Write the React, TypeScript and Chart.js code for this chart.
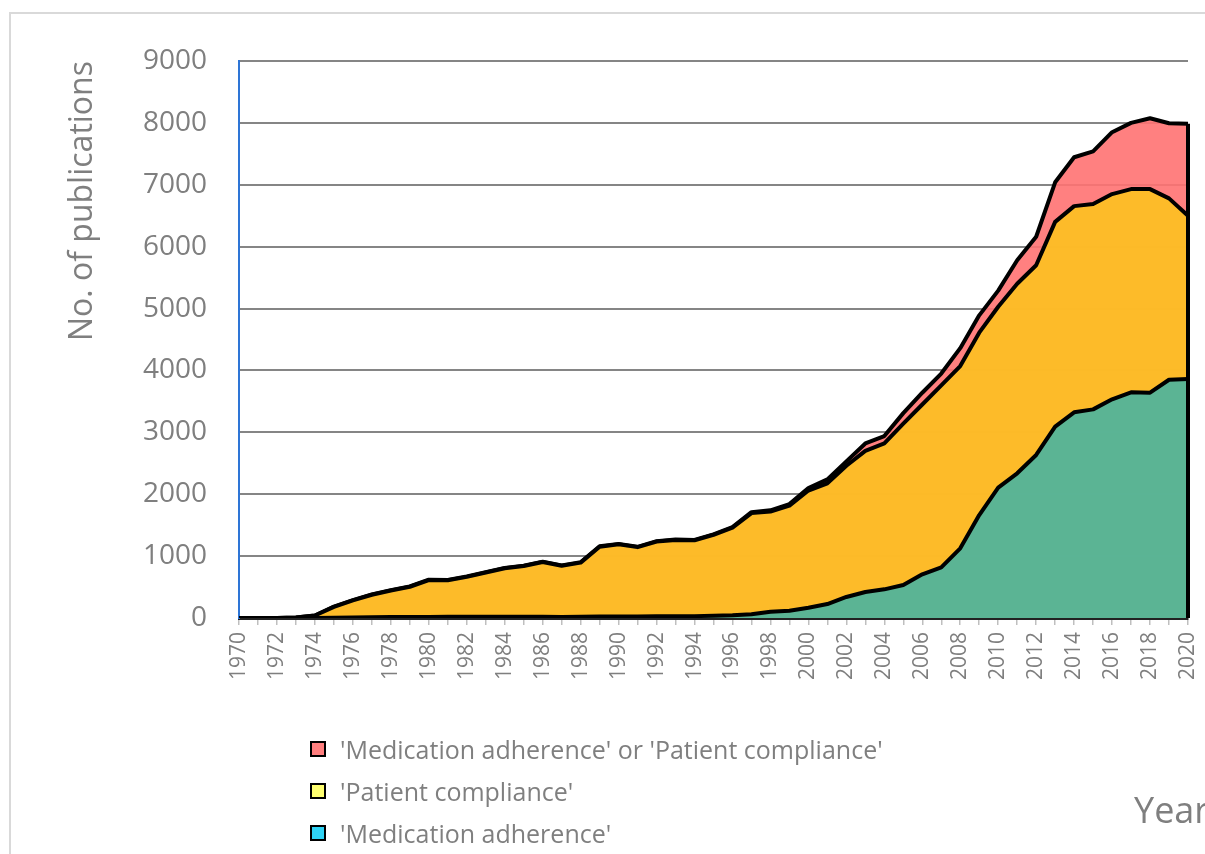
import React, { useEffect, useRef } from "react";
import { Chart, registerables } from "chart.js";

Chart.register(...registerables);

const years: string[] = [];
for (let y = 1970; y <= 2020; y++) years.push(String(y));

const eitherValues = [
  0, 0, 0, 8, 40, 185, 290, 380, 450, 510,
  620, 615, 670, 740, 810, 845, 910, 850, 900, 1160,
  1195, 1150, 1240, 1268, 1260, 1350, 1470, 1710, 1740, 1840,
  2100, 2240, 2530, 2820, 2940, 3310, 3640, 3950, 4360, 4890,
  5290, 5780, 6160, 7040, 7445, 7540, 7850, 8000, 8075, 7995,
  7985,
];

const complianceValues = [
  0, 0, 0, 8, 40, 180, 285, 375, 445, 505,
  612, 610, 665, 735, 805, 840, 905, 845, 895, 1152,
  1190, 1145, 1235, 1262, 1255, 1345, 1460, 1695, 1720, 1815,
  2060, 2175, 2460, 2700, 2820, 3140, 3450, 3760, 4070, 4610,
  5030, 5400, 5700, 6400, 6655, 6690, 6850, 6930, 6930, 6780,
  6500,
];

const adherenceValues = [
  0, 0, 0, 0, 2, 5, 10, 12, 15, 18,
  18, 20, 22, 20, 22, 22, 20, 18, 22, 25,
  25, 25, 28, 30, 30, 38, 45, 62, 102, 118,
  165, 225, 340, 420, 463, 533, 706, 819, 1126, 1664,
  2106, 2338, 2634, 3091, 3323, 3371, 3533, 3646, 3641, 3850,
  3860,
];

const yTicks = [0, 1000, 2000, 3000, 4000, 5000, 6000, 7000, 8000, 9000];

const legendItems = [
  { label: "'Medication adherence' or 'Patient compliance'", color: "#FF7F7F" },
  { label: "'Patient compliance'", color: "#FFFF70" },
  { label: "'Medication adherence'", color: "#2FD3F5" },
];

const GRAY = "#7F7F7F";
const FONT = "'Open Sans', 'DejaVu Sans', sans-serif";

const edgePlugin = {
  id: "rightEdge",
  afterDatasetsDraw(chart: any) {
    const ctx = chart.ctx;
    const yScale = chart.scales.y;
    const y0 = yScale.getPixelForValue(0);
    ctx.save();
    ctx.strokeStyle = "#000";
    ctx.lineWidth = 4;
    chart.data.datasets.forEach((_: any, i: number) => {
      const meta = chart.getDatasetMeta(i);
      const pts = meta.data;
      const last = pts[pts.length - 1];
      if (!last) return;
      ctx.beginPath();
      ctx.moveTo(last.x, last.y);
      ctx.lineTo(last.x, y0);
      ctx.stroke();
    });
    ctx.restore();
  },
};

export default function App() {
  const ref = useRef<HTMLCanvasElement | null>(null);

  useEffect(() => {
    if (!ref.current) return;
    const chart = new Chart(ref.current, {
      type: "line",
      data: {
        labels: years,
        datasets: [
          {
            label: "'Medication adherence'",
            data: adherenceValues,
            backgroundColor: "rgba(73,180,161,0.9)",
            borderColor: "#000",
            borderWidth: 4,
            fill: "origin",
            pointRadius: 0,
            tension: 0,
            order: 0,
          },
          {
            label: "'Patient compliance'",
            data: complianceValues,
            backgroundColor: "rgba(253,194,32,0.9)",
            borderColor: "#000",
            borderWidth: 4,
            fill: "origin",
            pointRadius: 0,
            tension: 0,
            order: 1,
          },
          {
            label: "'Medication adherence' or 'Patient compliance'",
            data: eitherValues,
            backgroundColor: "rgba(255,114,114,0.9)",
            borderColor: "#000",
            borderWidth: 4,
            fill: "origin",
            pointRadius: 0,
            tension: 0,
            order: 2,
          },
        ],
      },
      options: {
        responsive: false,
        maintainAspectRatio: false,
        animation: false,
        layout: { padding: { left: 0, top: 61, right: 17, bottom: 0 } },
        plugins: {
          legend: { display: false },
          tooltip: { enabled: false },
        },
        elements: { line: { borderJoinStyle: "round" } },
        scales: {
          x: {
            type: "category",
            offset: false,
            grid: {
              display: true,
              drawOnChartArea: false,
              drawTicks: true,
              tickLength: 7,
              color: "#BFBFBF",
              lineWidth: 1.5,
            },
            border: { display: true, color: "#222", width: 3 },
            ticks: {
              autoSkip: false,
              minRotation: 90,
              maxRotation: 90,
              padding: 7,
              color: GRAY,
              font: { family: FONT, size: 21 },
              callback: (_v: any, i: number) => (i % 2 === 0 ? years[i] : ""),
            },
            afterFit: (s: any) => {
              s.height = 236;
              s.paddingLeft = 0;
              s.paddingRight = 0;
            },
          },
          y: {
            min: 0,
            max: 9000,
            afterBuildTicks: (s: any) => {
              s.ticks = yTicks.map((v) => ({ value: v }));
            },
            grid: {
              color: "#858585",
              lineWidth: 2,
              drawTicks: false,
            },
            border: { display: true, color: "#2E75D6", width: 2 },
            ticks: {
              padding: 32,
              color: GRAY,
              font: { family: FONT, size: 28 },
              callback: (v: any) => String(v),
            },
            title: {
              display: true,
              text: "No. of publications",
              align: "end",
              color: GRAY,
              font: { family: FONT, size: 32 },
              padding: { top: 64, bottom: 0 },
            },
            afterFit: (s: any) => {
              s.width = 239;
              s.paddingTop = 0;
              s.paddingBottom = 0;
            },
          },
        },
      },
      plugins: [edgePlugin],
    } as any);
    return () => chart.destroy();
  }, []);

  return (
    <div
      style={{
        position: "fixed",
        left: 0,
        top: 0,
        width: 1205,
        height: 854,
        overflow: "hidden",
        background: "#fff",
        fontFamily: FONT,
      }}
    >
      <div
        style={{
          position: "absolute",
          left: 9,
          top: 12,
          width: 1400,
          height: 1000,
          border: "2px solid #D9D9D9",
          boxSizing: "border-box",
        }}
      />
      <canvas
        ref={ref}
        width={1205}
        height={854}
        style={{ position: "absolute", left: 0, top: 0, display: "block" }}
      />
      {legendItems.map((it, i) => (
        <div
          key={i}
          style={{
            position: "absolute",
            left: 310,
            top: 731 + i * 42,
            height: 36,
            display: "flex",
            alignItems: "center",
            color: GRAY,
            fontSize: 25,
            whiteSpace: "nowrap",
          }}
        >
          <span
            style={{
              display: "inline-block",
              width: 12,
              height: 12,
              border: "2px solid #000",
              background: it.color,
              marginRight: 14,
            }}
          />
          <span>{it.label}</span>
        </div>
      ))}
      <div
        style={{
          position: "absolute",
          left: 1134,
          top: 788,
          color: GRAY,
          fontSize: 36,
          whiteSpace: "nowrap",
          lineHeight: "44px",
        }}
      >
        Year
      </div>
    </div>
  );
}
